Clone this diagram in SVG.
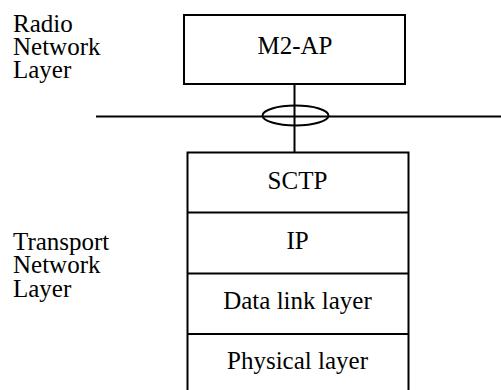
<svg xmlns="http://www.w3.org/2000/svg" width="501" height="390" viewBox="0 0 501 390">
<style>
.c{text-anchor:middle}
.b{fill:#fff;stroke:#000;stroke-width:2}
.l{stroke:#000;stroke-width:2;fill:none}
</style>
<rect width="501" height="390" fill="#fff"/>
<g font-family="Liberation Serif, Times New Roman, serif" font-size="25" fill="#000">
<g id="labels">
<text x="13" y="32">Radio</text>
<text x="13" y="55">Network</text>
<text x="13" y="78">Layer</text>
<text x="13" y="250">Transport</text>
<text x="13" y="273">Network</text>
<text x="13" y="297">Layer</text>
</g>
<g id="connectors">
<line class="l" x1="294.5" y1="84" x2="294.5" y2="153"/>
<line class="l" x1="96" y1="116.5" x2="501" y2="116.5"/>
<ellipse class="l" cx="295.5" cy="115.5" rx="33" ry="10"/>
</g>
<g id="m2ap">
<rect class="b" x="184" y="15" width="221" height="69"/>
<text class="c" x="295" y="54">M2-AP</text>
</g>
<g id="stack">
<rect class="b" x="187.5" y="152.5" width="221" height="250"/>
<line class="l" x1="187.5" y1="212.5" x2="408.5" y2="212.5"/>
<line class="l" x1="187.5" y1="273.5" x2="408.5" y2="273.5"/>
<line class="l" x1="187.5" y1="334" x2="408.5" y2="334"/>
</g>
<g id="sctp"><text class="c" x="297.5" y="188.5">SCTP</text></g>
<g id="ip"><text class="c" x="297.5" y="248.5">IP</text></g>
<g id="datalink"><text class="c" x="297.5" y="308.5">Data link layer</text></g>
<g id="physical"><text class="c" x="297.5" y="368.5">Physical layer</text></g>
</g>
</svg>
